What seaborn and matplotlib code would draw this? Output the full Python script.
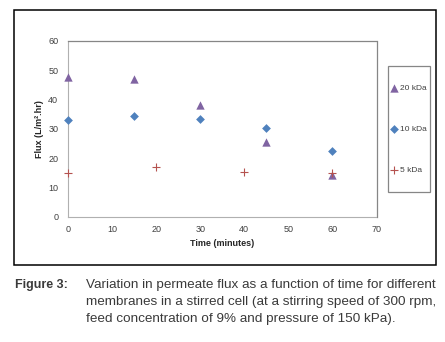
import matplotlib
matplotlib.use('Agg')
import matplotlib.pyplot as plt
import seaborn as sns
import pandas as pd
from matplotlib.patches import Rectangle

# data
time_20 = [0, 15, 30, 45, 60]
flux_20 = [47.7, 47.1, 38.2, 25.7, 14.2]
time_10 = [0, 15, 30, 45, 60]
flux_10 = [33.1, 34.5, 33.4, 30.3, 22.5]
time_5 = [0, 20, 40, 60]
flux_5 = [15.1, 17.1, 15.5, 15.0]

df = pd.concat([
  pd.DataFrame({'time': time_20, 'flux': flux_20, 'membrane': '20 kDa'}),
  pd.DataFrame({'time': time_10, 'flux': flux_10, 'membrane': '10 kDa'}),
  pd.DataFrame({'time': time_5, 'flux': flux_5, 'membrane': '5 kDa'}),
])

sns.set_theme(style='white')
plt.rcParams['font.family'] = ['Liberation Sans', 'DejaVu Sans']

fig = plt.figure(figsize=(4.45, 3.42), dpi=100)
ax = fig.add_axes([68/445, 1-217/342, (376.5-68)/445, (217-41)/342])

palette = {'20 kDa': '#8064A2', '10 kDa': '#4F81BD', '5 kDa': '#B5524F'}
sns.scatterplot(data=df[df.membrane == '20 kDa'], x='time', y='flux', ax=ax,
                color=palette['20 kDa'], marker='^', s=36, linewidth=0, label='20 kDa',
                clip_on=False, zorder=3)
sns.scatterplot(data=df[df.membrane == '10 kDa'], x='time', y='flux', ax=ax,
                color=palette['10 kDa'], marker='D', s=20, linewidth=0, label='10 kDa',
                clip_on=False, zorder=3)
sns.scatterplot(data=df[df.membrane == '5 kDa'], x='time', y='flux', ax=ax,
                color=palette['5 kDa'], marker='+', s=26, linewidth=0.8, label='5 kDa',
                clip_on=False, zorder=4)

ax.set_xlim(0, 70)
ax.set_ylim(0, 60)
ax.set_xticks(range(0, 71, 10))
ax.set_yticks(range(0, 61, 10))
ax.tick_params(axis='both', labelsize=6.5, labelcolor='#404040', direction='inout',
               length=4, width=0.6, color='#B0B0B0')
ax.tick_params(axis='y', pad=5)
ax.tick_params(axis='x', pad=4)
for side in ['left', 'bottom']:
  ax.spines[side].set_color('#B0B0B0')
  ax.spines[side].set_linewidth(0.8)
for side in ['top', 'right']:
  ax.spines[side].set_color('#868686')
  ax.spines[side].set_linewidth(0.9)
  ax.spines[side].set_visible(True)
ax.set_xlabel('Time (minutes)', fontsize=6.5, fontweight='bold', labelpad=3)
ax.set_ylabel('Flux (L/m².hr)', fontsize=6.5, fontweight='bold', labelpad=3)

leg = ax.legend(loc='center left', bbox_to_anchor=(391/445, 1-129/342),
                bbox_transform=fig.transFigure, fontsize=6, labelspacing=4.0,
                borderpad=0, handletextpad=0.25, handlelength=0.8,
                frameon=False, borderaxespad=0)
for t in leg.get_texts():
  t.set_color('#404040')

# legend frame and outer frame around the chart
fig.patches.append(Rectangle((388/445, 1-192/342), (430-388)/445, (192-66)/342,
                             transform=fig.transFigure, fill=False,
                             edgecolor='#868686', linewidth=0.9))
fig.patches.append(Rectangle((14/445, 1-265/342), (436-14)/445, (265-10)/342,
                             transform=fig.transFigure, fill=False,
                             edgecolor='black', linewidth=1.1))

fig.text(15/445, 1-285/342, 'Figure 3:', fontsize=9, fontweight='bold',
         color='#3a3a3a', va='center')
lines = ['Variation in permeate flux as a function of time for different',
         'membranes in a stirred cell (at a stirring speed of 300 rpm,',
         'feed concentration of 9% and pressure of 150 kPa).']
for i, line in enumerate(lines):
  fig.text(86/445, 1-(285+17*i)/342, line, fontsize=9.7, color='#3a3a3a',
           va='center')

plt.savefig('out.png', dpi=100)
